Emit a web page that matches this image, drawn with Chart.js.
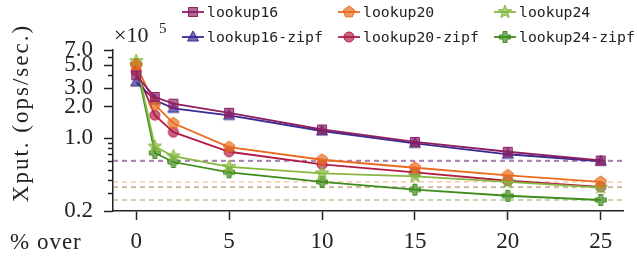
<!DOCTYPE html>
<html>
<head>
<meta charset="utf-8">
<script src="https://cdn.jsdelivr.net/npm/chart.js@4"></script>
<style>
  body { margin: 0; background: #fff; }
  #wrap { position: relative; width: 637px; height: 258px; }
</style>
</head>
<body>
<div id="wrap"><canvas id="chart" width="637" height="258"></canvas></div>
<script>
// --- data (values in x10^5 ops/sec) ---
const xValues = [0, 1, 2, 5, 10, 15, 20, 25];
const xTicks = [0, 5, 10, 15, 20, 25];
const yTicks = [0.2, 0.3, 0.4, 0.5, 0.6, 0.7, 0.8, 0.9, 1, 2, 3, 4, 5, 6, 7];
const yLabeled = [0.2, 1, 2, 3, 5, 7];

const seriesNames = ['lookup16', 'lookup20', 'lookup24', 'lookup16-zipf', 'lookup20-zipf', 'lookup24-zipf'];
const lookup16     = [4.0, 2.48, 2.14, 1.75, 1.21, 0.92, 0.74, 0.61];
const lookup20     = [5.02, 2.10, 1.39, 0.82, 0.62, 0.52, 0.44, 0.38];
const lookup24     = [5.48, 0.83, 0.67, 0.53, 0.46, 0.43, 0.38, 0.335];
const lookup16zipf = [3.45, 2.32, 1.93, 1.65, 1.17, 0.89, 0.70, 0.60];
const lookup20zipf = [4.4, 1.66, 1.14, 0.74, 0.56, 0.47, 0.39, 0.34];
const lookup24zipf = [5.13, 0.72, 0.59, 0.47, 0.38, 0.32, 0.28, 0.255];
const seriesValues = [lookup16, lookup20, lookup24, lookup16zipf, lookup20zipf, lookup24zipf];

const colors = ['#8e1f62', '#ea6a1f', '#86b840', '#3a2a93', '#b01c45', '#3f8c1c'];
const shapes = ['square', 'pentagon', 'star', 'triangle', 'circle', 'plus'];

const X_MIN = -1.25, X_MAX = 26.2;
const SERIF = '"Liberation Serif", "DejaVu Serif", serif';
const INK = '#222';

function fade(hex, a) {
    const n = parseInt(hex.slice(1), 16);
    return `rgba(${n >> 16}, ${(n >> 8) & 255}, ${n & 255}, ${a})`;
}

// marker images for points and legend
function makeMarker(shape, color) {
    const s = 16;
    const c = document.createElement('canvas');
    c.width = s; c.height = s;
    const g = c.getContext('2d');
    g.translate(s / 2, s / 2);
    g.fillStyle = fade(color, 0.68);
    g.strokeStyle = color;
    g.lineWidth = 1;
    g.beginPath();
    if (shape === 'square') {
        g.rect(-4.5, -4.5, 9, 9);
    } else if (shape === 'circle') {
        g.arc(0, 0, 5, 0, Math.PI * 2);
    } else if (shape === 'triangle') {
        g.moveTo(0, -6); g.lineTo(5.5, 4); g.lineTo(-5.5, 4);
    } else if (shape === 'pentagon') {
        for (let k = 0; k < 5; k++) {
            const a = -Math.PI / 2 + k * 2 * Math.PI / 5;
            g.lineTo(6 * Math.cos(a), 6 * Math.sin(a));
        }
    } else if (shape === 'star') {
        for (let k = 0; k < 10; k++) {
            const a = -Math.PI / 2 + k * Math.PI / 5;
            const r = k % 2 === 0 ? 7 : 3;
            g.lineTo(r * Math.cos(a), r * Math.sin(a));
        }
    } else if (shape === 'plus') {
        const w = 2, l = 5.5;
        const pts = [[-w,-l],[w,-l],[w,-w],[l,-w],[l,w],[w,w],[w,l],[-w,l],[-w,w],[-l,w],[-l,-w],[-w,-w]];
        pts.forEach(p => g.lineTo(p[0], p[1]));
    }
    g.closePath();
    g.fill();
    g.stroke();
    return c;
}

const markers = shapes.map((s, i) => makeMarker(s, colors[i]));

const datasets = [];
seriesValues.forEach((vals, i) => {
    datasets.push({
        label: seriesNames[i],
        data: vals.map((v, j) => ({ x: xValues[j], y: v })),
        borderColor: colors[i],
        borderWidth: 1.8,
        pointStyle: markers[i],
        pointRadius: 5,
        tension: 0,
        order: 1
    });
});
// dashed reference line at each series' last value
seriesValues.forEach((vals, i) => {
    const v = vals[vals.length - 1];
    datasets.push({
        label: '',
        data: [{ x: X_MIN, y: v }, { x: X_MAX, y: v }],
        borderColor: fade(colors[i], 0.45),
        borderWidth: 1.3,
        borderDash: [5, 4],
        pointRadius: 0,
        order: 10
    });
});

const extras = {
    id: 'extras',
    afterDraw(chart) {
        const ctx = chart.ctx;
        const y = chart.scales.y;
        const left = chart.chartArea.left;
        ctx.save();
        // minor y ticks
        ctx.strokeStyle = INK;
        ctx.lineWidth = 1.5;
        yTicks.filter(v => !yLabeled.includes(v)).forEach(v => {
            const py = Math.round(y.getPixelForValue(v)) + 0.5;
            ctx.beginPath();
            ctx.moveTo(left - 5, py);
            ctx.lineTo(left, py);
            ctx.stroke();
        });

        // axis title
        ctx.fillStyle = INK;
        ctx.font = `23px ${SERIF}`;
        ctx.letterSpacing = '2px';
        ctx.textAlign = 'center';
        ctx.textBaseline = 'middle';
        ctx.save();
        ctx.translate(22, 113);
        ctx.rotate(-Math.PI / 2);
        ctx.fillText('Xput. (ops/sec.)', 0, 0);
        ctx.restore();

        ctx.letterSpacing = '1px';
        ctx.textAlign = 'left';
        ctx.textBaseline = 'alphabetic';
        ctx.fillText('% over', 10, 249);

        ctx.letterSpacing = '0px';
        ctx.font = `22px ${SERIF}`;
        ctx.fillText('\u00d710', 114, 42);
        ctx.font = `15px ${SERIF}`;
        ctx.fillText('5', 159, 33);

        // legend
        const colX = [193, 349, 505];
        const rowY = [12, 37];
        ctx.font = '14.8px "DejaVu Sans Mono", monospace';
        ctx.textBaseline = 'middle';
        seriesNames.forEach((name, i) => {
            const cx = colX[i % 3], cy = rowY[Math.floor(i / 3)];
            ctx.strokeStyle = colors[i];
            ctx.lineWidth = 1.8;
            ctx.beginPath();
            ctx.moveTo(cx - 11, cy);
            ctx.lineTo(cx + 11, cy);
            ctx.stroke();
            ctx.drawImage(markers[i], cx - 8, cy - 8);
            ctx.fillStyle = INK;
            ctx.fillText(name, cx + 14, cy + 1);
        });
        ctx.restore();
    }
};

new Chart(document.getElementById('chart'), {
    type: 'line',
    data: { datasets },
    options: {
        responsive: false,
        animation: false,
        layout: { padding: { left: 0, right: 14, top: 50, bottom: 0 } },
        plugins: { legend: { display: false }, tooltip: { enabled: false } },
        scales: {
            x: {
                type: 'linear',
                min: X_MIN,
                max: X_MAX,
                afterBuildTicks: s => { s.ticks = xTicks.map(v => ({ value: v })); },
                afterFit: s => { s.height = 47; },
                grid: { drawOnChartArea: false, tickLength: 9, tickColor: INK, tickWidth: 1.5 },
                border: { color: INK, width: 1.5 },
                ticks: { color: INK, font: { family: SERIF, size: 23 }, padding: 8, maxRotation: 0 }
            },
            y: {
                type: 'logarithmic',
                min: 0.2,
                max: 7,
                afterBuildTicks: s => { s.ticks = yTicks.map(v => ({ value: v })); },
                afterFit: s => { s.width = 113; },
                grid: {
                    drawOnChartArea: false,
                    tickLength: 9,
                    tickWidth: 1.5,
                    tickColor: c => yLabeled.includes(c.tick.value) ? INK : 'rgba(0,0,0,0)'
                },
                border: { color: INK, width: 1.5 },
                ticks: {
                    color: INK,
                    font: { family: SERIF, size: 23 },
                    padding: 11,
                    autoSkip: false,
                    callback: v => yLabeled.includes(v) ? v.toFixed(1) : ''
                }
            }
        }
    },
    plugins: [extras]
});
</script>
</body>
</html>
